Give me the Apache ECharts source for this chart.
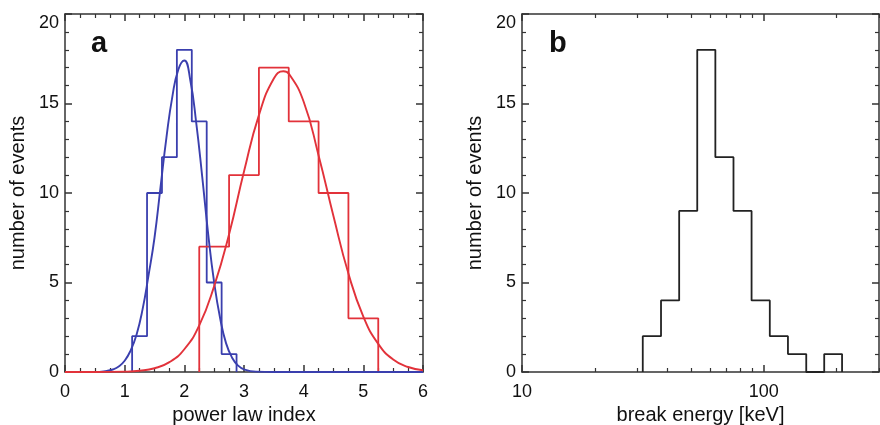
<!DOCTYPE html>
<html>
<head>
<meta charset="utf-8">
<script src="https://cdn.jsdelivr.net/npm/echarts@6/dist/echarts.min.js"></script>
<style>html,body{margin:0;padding:0;background:#fff}#c{width:880px;height:425px}</style>
</head>
<body>
<div id="c"></div>
<script>
// ---- data ----
var blueEdges = [1.125, 1.375, 1.625, 1.875, 2.125, 2.375, 2.625, 2.875];
var blueCounts = [2, 10, 12, 18, 14, 5, 1];
var redEdges = [2.25, 2.75, 3.25, 3.75, 4.25, 4.75, 5.25];
var redCounts = [7, 11, 17, 14, 10, 3];
var blueFitX = [0, 0.5, 0.7, 0.8, 0.9, 1.0, 1.1, 1.2, 1.3, 1.4, 1.5, 1.6, 1.7, 1.8, 1.9, 2.0, 2.1, 2.2, 2.3, 2.4, 2.5, 2.6, 2.7, 2.8, 2.9, 3.0, 3.2, 3.5, 6];
var blueFitY = [0, 0, 0.06, 0.14, 0.31, 0.63, 1.2, 2.1, 3.5, 5.4, 7.5, 10.3, 13.1, 15.4, 16.9, 17.4, 16.3, 13.9, 10.9, 7.7, 5.0, 3.0, 1.6, 0.8, 0.36, 0.15, 0.02, 0, 0];
var redFitX = [0, 0.5, 1.0, 1.25, 1.5, 1.75, 2.0, 2.25, 2.5, 2.75, 3.0, 3.25, 3.5, 3.66, 3.75, 4.0, 4.25, 4.5, 4.75, 5.0, 5.25, 5.5, 5.75, 6.0];
var redFitY = [0, 0, 0.02, 0.07, 0.21, 0.55, 1.27, 2.6, 4.8, 7.7, 11.2, 14.35, 16.4, 16.8, 16.67, 15.1, 12.1, 8.7, 5.5, 3.1, 1.57, 0.7, 0.28, 0.1];
var breakEdges = [31.6, 37.6, 44.7, 53.1, 63.1, 75.0, 89.1, 106, 126, 150, 178, 211];
var breakCounts = [2, 4, 9, 18, 12, 9, 4, 2, 1, 0, 1];
var xTicksA = [0, 1, 2, 3, 4, 5, 6];
var yTicks = [0, 5, 10, 15, 20];
var logMajor = [10, 100];
var logMinor = [20, 30, 40, 50, 60, 70, 80, 90, 200, 300];

// ---- helpers ----
function histPoints(edges, counts) {
  var pts = [[edges[0], 0]];
  for (var i = 0; i < counts.length; i++) pts.push([edges[i], counts[i]]);
  pts.push([edges[edges.length - 1], 0]);
  return pts;
}
function zip(xs, ys) { return xs.map(function (x, i) { return [x, ys[i]]; }); }

var FONT = '"Liberation Sans", Arial, Helvetica, sans-serif';
var AX = '#333';
var BLUE = '#3a3fae';
var RED = '#e2323a';
var lineSt = { color: AX, width: 1.5 };
var lab = { fontFamily: FONT, fontSize: 18, color: '#111' };
var nameSt = { fontFamily: FONT, fontSize: 20, color: '#111' };

function yAx(grid, pos, showLab) {
  var o = {
    gridIndex: grid, type: 'value', min: 0, max: 20, interval: 5, position: pos,
    axisLine: { show: true, onZero: false, lineStyle: lineSt },
    axisTick: { show: true, inside: true, length: 7, lineStyle: lineSt },
    minorTick: { show: true, splitNumber: 5, length: 4, lineStyle: { color: AX, width: 1.2 } },
    splitLine: { show: false },
    axisLabel: Object.assign({ show: showLab, margin: 6, verticalAlignMaxLabel: 'top' }, lab)
  };
  if (showLab) {
    o.name = 'number of events'; o.nameLocation = 'middle'; o.nameRotate = 90; o.nameGap = 37;
    o.nameTextStyle = nameSt;
  }
  return o;
}
function xAxA(pos, showLab) {
  var o = {
    gridIndex: 0, type: 'value', min: 0, max: 6, interval: 1, position: pos,
    axisLine: { show: true, onZero: false, lineStyle: lineSt },
    axisTick: { show: true, inside: true, length: 7, lineStyle: lineSt },
    minorTick: { show: true, splitNumber: 4, length: 4, lineStyle: { color: AX, width: 1.2 } },
    splitLine: { show: false },
    axisLabel: Object.assign({ show: showLab, margin: 11, customValues: xTicksA }, lab)
  };
  if (showLab) {
    o.name = 'power law index'; o.nameLocation = 'middle'; o.nameGap = 29; o.nameTextStyle = nameSt;
  }
  return o;
}
function xAxB(pos, showLab, major) {
  var o = {
    gridIndex: 1, type: 'log', logBase: 10, min: 10, max: 300, position: pos,
    axisLine: { show: major, onZero: false, lineStyle: lineSt },
    axisTick: { show: true, inside: true, length: major ? 7 : 4, customValues: major ? logMajor : logMinor,
      lineStyle: { color: AX, width: major ? 1.5 : 1.2 } },
    minorTick: { show: false },
    splitLine: { show: false },
    axisLabel: Object.assign({ show: showLab, margin: 11, customValues: logMajor }, lab)
  };
  if (showLab) {
    o.name = 'break energy [keV]'; o.nameLocation = 'middle'; o.nameGap = 29; o.nameTextStyle = nameSt;
  }
  return o;
}

var chart = echarts.init(document.getElementById('c'), null, { renderer: 'canvas' });
chart.setOption({
  animation: false,
  backgroundColor: '#fff',
  grid: [
    { left: 65, top: 14, width: 358, height: 358, outerBoundsMode: 'none', containLabel: false },
    { left: 522, top: 14, width: 357, height: 358, outerBoundsMode: 'none', containLabel: false }
  ],
  xAxis: [
    xAxA('bottom', true), xAxA('top', false),
    xAxB('bottom', true, true), xAxB('top', false, true),
    xAxB('bottom', false, false), xAxB('top', false, false)
  ],
  yAxis: [yAx(0, 'left', true), yAx(0, 'right', false), yAx(1, 'left', true), yAx(1, 'right', false)],
  graphic: [
    { type: 'text', left: 91, top: 29, style: { text: 'a', font: 'bold 29px ' + FONT, fill: '#111' } },
    { type: 'text', left: 549, top: 29, style: { text: 'b', font: 'bold 29px ' + FONT, fill: '#111' } }
  ],
  series: [
    { type: 'line', xAxisIndex: 0, yAxisIndex: 0, step: 'end', symbol: 'none', data: histPoints(blueEdges, blueCounts),
      lineStyle: { color: BLUE, width: 1.8 }, z: 3 },
    { type: 'line', xAxisIndex: 0, yAxisIndex: 0, step: 'end', symbol: 'none', data: histPoints(redEdges, redCounts),
      lineStyle: { color: RED, width: 1.8 }, z: 3 },
    { type: 'line', xAxisIndex: 0, yAxisIndex: 0, smooth: 0.5, symbol: 'none', data: zip(blueFitX, blueFitY),
      lineStyle: { color: BLUE, width: 1.9 }, z: 4 },
    { type: 'line', xAxisIndex: 0, yAxisIndex: 0, smooth: 0.5, symbol: 'none', data: zip(redFitX, redFitY),
      lineStyle: { color: RED, width: 1.9 }, z: 4 },
    { type: 'line', xAxisIndex: 2, yAxisIndex: 2, step: 'end', symbol: 'none', data: histPoints(breakEdges, breakCounts),
      lineStyle: { color: '#222', width: 1.8 }, z: 3 }
  ]
});
</script>
</body>
</html>
